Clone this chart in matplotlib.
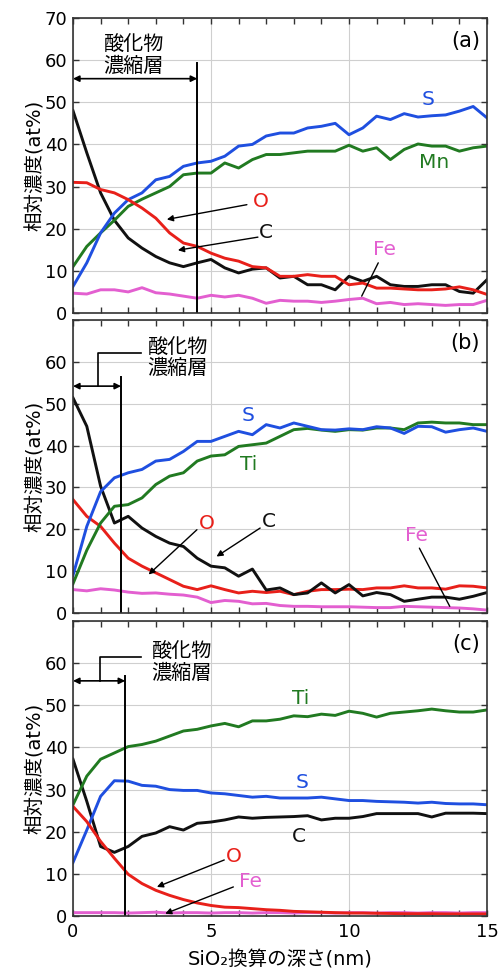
import matplotlib
matplotlib.use("Agg")
import matplotlib.pyplot as plt
from matplotlib.ticker import MultipleLocator

plt.rcParams['font.family'] = ['DejaVu Sans', 'Noto Sans CJK JP']

# depth grid (nm, SiO2 equivalent)
depth = [0, 0.5, 1, 1.5, 2, 2.5, 3, 3.5, 4, 4.5, 5, 5.5, 6, 6.5, 7, 7.5,
         8, 8.5, 9, 9.5, 10, 10.5, 11, 11.5, 12, 12.5, 13, 13.5, 14, 14.5, 15]

# ---- panel (a) ----
S_a = [6.3, 11.9, 19.0, 23.7, 26.9, 28.5, 31.6, 32.4, 34.8, 35.6, 36.0, 37.2, 39.6, 40.0, 42.0, 42.7,
       42.7, 43.9, 44.3, 45.0, 42.3, 43.9, 46.7, 45.9, 47.3, 46.5, 46.8, 47.0, 47.9, 49.0, 46.3]
Mn_a = [11.0, 15.8, 19.0, 22.0, 25.3, 27.0, 28.5, 30.0, 32.8, 33.2, 33.2, 35.6, 34.4, 36.4, 37.6, 37.6,
        38.0, 38.4, 38.4, 38.4, 39.8, 38.4, 39.2, 36.4, 38.8, 40.1, 39.6, 39.6, 38.4, 39.2, 39.6]
O_a = [31.0, 30.9, 29.3, 28.5, 26.9, 24.9, 22.5, 19.0, 16.6, 15.8, 14.2, 13.0, 12.3, 11.0, 10.7, 8.7,
       8.7, 9.1, 8.7, 8.7, 6.7, 7.1, 5.9, 5.9, 5.7, 5.5, 5.5, 5.7, 6.2, 5.5, 4.4]
C_a = [48.0, 38.0, 28.5, 22.0, 17.8, 15.4, 13.4, 11.9, 11.0, 11.9, 12.7, 10.7, 9.5, 10.4, 10.7, 8.3,
       8.7, 6.7, 6.7, 5.5, 8.7, 7.5, 8.7, 6.7, 6.3, 6.3, 6.7, 6.7, 5.1, 4.7, 7.9]
Fe_a = [4.7, 4.5, 5.5, 5.5, 5.0, 6.0, 4.8, 4.5, 4.0, 3.5, 4.2, 3.8, 4.2, 3.5, 2.3, 3.0,
        2.8, 2.8, 2.5, 2.8, 3.2, 3.5, 2.2, 2.5, 2.0, 2.2, 2.0, 1.8, 2.0, 2.0, 3.0]

# ---- panel (b) ----
S_b = [9.0, 20.7, 29.0, 32.3, 33.5, 34.3, 36.3, 36.7, 38.6, 41.0, 41.0, 42.2, 43.4, 42.6, 45.0, 44.2,
       45.4, 44.6, 43.8, 43.7, 44.0, 43.8, 44.5, 44.2, 42.9, 44.6, 44.5, 43.2, 43.8, 44.2, 43.4]
Ti_b = [7.0, 15.0, 21.5, 25.5, 25.9, 27.5, 30.7, 32.7, 33.5, 36.3, 37.5, 37.8, 39.8, 40.2, 40.6, 42.2,
        43.8, 44.1, 43.7, 43.4, 43.8, 43.7, 44.2, 44.2, 43.8, 45.4, 45.6, 45.4, 45.4, 45.0, 45.0]
O_b = [27.1, 23.1, 20.7, 16.7, 13.1, 11.2, 9.6, 8.0, 6.4, 5.6, 6.5, 5.6, 4.8, 5.2, 4.9, 5.2,
       4.4, 5.2, 5.6, 5.6, 5.7, 5.6, 6.0, 6.0, 6.5, 6.0, 6.0, 5.7, 6.5, 6.4, 6.0]
C_b = [51.4, 44.6, 30.3, 21.5, 23.1, 20.3, 18.3, 16.7, 15.9, 13.1, 11.2, 10.8, 8.8, 10.5, 5.5, 6.0,
       4.4, 4.8, 7.2, 4.8, 6.8, 4.1, 4.9, 4.4, 2.8, 3.3, 3.8, 3.8, 3.3, 4.0, 4.9]
Fe_b = [5.6, 5.3, 5.8, 5.5, 5.0, 4.7, 4.8, 4.5, 4.3, 3.8, 2.5, 3.0, 2.8, 2.2, 2.3, 1.8,
        1.6, 1.6, 1.5, 1.5, 1.5, 1.4, 1.3, 1.3, 1.6, 1.5, 1.4, 1.3, 1.2, 1.0, 0.7]

# ---- panel (c) ----
Ti_c = [26.4, 33.2, 37.2, 38.7, 40.2, 40.7, 41.5, 42.7, 43.9, 44.3, 45.1, 45.7, 44.9, 46.3, 46.3, 46.7,
        47.5, 47.3, 47.9, 47.6, 48.6, 48.1, 47.2, 48.1, 48.4, 48.7, 49.1, 48.7, 48.4, 48.4, 48.9]
S_c = [12.7, 20.4, 28.4, 32.1, 32.0, 31.0, 30.8, 30.0, 29.8, 29.8, 29.2, 29.0, 28.6, 28.2, 28.4, 28.0,
       28.0, 28.0, 28.2, 27.8, 27.4, 27.4, 27.2, 27.1, 27.0, 26.8, 27.0, 26.7, 26.6, 26.6, 26.4]
C_c = [37.2, 27.2, 16.5, 15.1, 16.5, 18.9, 19.7, 21.2, 20.4, 22.0, 22.3, 22.8, 23.5, 23.2, 23.4, 23.5,
       23.6, 23.8, 22.8, 23.2, 23.2, 23.6, 24.3, 24.3, 24.3, 24.3, 23.5, 24.4, 24.4, 24.4, 24.3]
O_c = [26.0, 22.4, 17.7, 13.7, 9.9, 7.7, 6.1, 4.9, 3.9, 3.1, 2.5, 2.1, 2.0, 1.75, 1.5, 1.35,
       1.1, 1.0, 0.9, 0.8, 0.7, 0.7, 0.65, 0.6, 0.55, 0.55, 0.55, 0.5, 0.5, 0.5, 0.5]
Fe_c = [0.8, 0.8, 0.8, 0.8, 0.7, 0.8, 0.9, 0.7, 0.8, 0.8, 0.7, 0.8, 0.8, 0.7, 0.8, 0.8,
        0.7, 0.8, 0.8, 0.7, 0.8, 0.8, 0.7, 0.8, 0.8, 0.7, 0.8, 0.8, 0.7, 0.8, 0.8]

# oxide-enriched layer thickness per panel
layer_a, layer_b, layer_c = 4.5, 1.74, 1.89

COL = {'S': '#1f4fe0', 'M': '#217a21', 'O': '#e8201a', 'C': '#111111', 'Fe': '#e35fd0'}

ylabel = '相対濃度(at%)'
xlabel = 'SiO₂換算の深さ(nm)'
layer_txt = '酸化物\n濃縮層'

fig = plt.figure(figsize=(5, 9.72), dpi=100)
rects = [[0.146, 0.678, 0.828, 0.3035],
         [0.146, 0.3693, 0.828, 0.3015],
         [0.146, 0.0576, 0.828, 0.3035]]
axes = [fig.add_axes(r) for r in rects]

LW = 2.1
TFS = 13


def style(ax, show_x, show70):
    ax.set_xlim(0, 15)
    ax.set_ylim(0, 70)
    ax.set_yticks(range(0, 71, 10))
    if show70:
        ax.set_yticklabels([str(v) for v in range(0, 71, 10)])
    else:
        ax.set_yticklabels([str(v) for v in range(0, 61, 10)] + [''])
    ax.set_xticks([0, 5, 10, 15])
    ax.xaxis.set_minor_locator(MultipleLocator(1))
    if not show_x:
        ax.set_xticklabels([])
    ax.tick_params(which='both', direction='in', top=True, right=True,
                   length=4, width=1, labelsize=TFS, color='#333333', pad=4)
    ax.tick_params(axis='x', pad=5)
    ax.grid(True, which='major', color='#cfcfcf', lw=0.8)
    ax.set_axisbelow(True)
    for s in ax.spines.values():
        s.set_color('#333333')
        s.set_linewidth(1.2)
    ax.set_ylabel(ylabel, fontsize=14, labelpad=0)


def arrow(ax, tail, head, head_on=True):
    ax.annotate('', xy=head, xytext=tail,
                arrowprops=dict(arrowstyle='-|>' if head_on else '-', color='k', lw=1.0,
                                mutation_scale=9, shrinkA=0, shrinkB=0))


def label(ax, x, y, t, c, ha='center'):
    ax.text(x, y, t, color=c, fontsize=14.5, ha=ha, va='center')


# ---- (a) ----
ax = axes[0]
style(ax, False, True)
ax.plot(depth, Fe_a, color=COL['Fe'], lw=LW)
ax.plot(depth, C_a, color=COL['C'], lw=LW)
ax.plot(depth, Mn_a, color=COL['M'], lw=LW)
ax.plot(depth, S_a, color=COL['S'], lw=LW)
ax.plot(depth, O_a, color=COL['O'], lw=LW)
ax.plot([layer_a, layer_a], [0, 59.3], color='k', lw=1.4)
ax.annotate('', xy=(0, 55.6), xytext=(layer_a, 55.6),
            arrowprops=dict(arrowstyle='<|-|>', color='k', lw=1.2, mutation_scale=9,
                            shrinkA=0, shrinkB=0))
ax.text(2.2, 61.0, layer_txt, fontsize=14.5, ha='center', va='center', linespacing=1.1)
label(ax, 12.85, 50.6, 'S', COL['S'])
label(ax, 13.1, 35.6, 'Mn', COL['M'])
label(ax, 6.8, 26.5, 'O', COL['O'])
label(ax, 7.0, 19.0, 'C', COL['C'])
label(ax, 11.3, 15.0, 'Fe', COL['Fe'])
arrow(ax, (6.3, 25.7), (3.4, 22.2))
arrow(ax, (6.7, 18.0), (3.8, 14.9))
arrow(ax, (11.06, 11.9), (10.46, 4.0), head_on=False)
ax.text(14.75, 64.5, '(a)', fontsize=15, ha='right', va='center')

# ---- (b) ----
ax = axes[1]
style(ax, False, False)
ax.plot(depth, Fe_b, color=COL['Fe'], lw=LW)
ax.plot(depth, O_b, color=COL['O'], lw=LW)
ax.plot(depth, C_b, color=COL['C'], lw=LW)
ax.plot(depth, Ti_b, color=COL['M'], lw=LW)
ax.plot(depth, S_b, color=COL['S'], lw=LW)
ax.plot([layer_b, layer_b], [0, 56.4], color='k', lw=1.4)
ax.annotate('', xy=(0, 54.2), xytext=(layer_b, 54.2),
            arrowprops=dict(arrowstyle='<|-|>', color='k', lw=1.2, mutation_scale=9,
                            shrinkA=0, shrinkB=0))
ax.plot([0.9, 0.9, 2.47], [54.2, 62.2, 62.2], color='k', lw=1.2)
ax.text(2.7, 60.8, layer_txt, fontsize=14.5, ha='left', va='center', linespacing=1.1)
label(ax, 6.36, 47.2, 'S', COL['S'])
label(ax, 6.36, 35.5, 'Ti', COL['M'])
label(ax, 4.85, 21.5, 'O', COL['O'])
label(ax, 7.08, 21.9, 'C', COL['C'])
label(ax, 12.45, 18.5, 'Fe', COL['Fe'])
arrow(ax, (4.49, 19.9), (2.74, 9.2))
arrow(ax, (6.78, 20.3), (5.2, 13.5))
arrow(ax, (12.55, 15.5), (13.65, 1.6), head_on=False)
ax.text(14.75, 64.5, '(b)', fontsize=15, ha='right', va='center')

# ---- (c) ----
ax = axes[2]
style(ax, True, False)
ax.plot(depth, Fe_c, color=COL['Fe'], lw=LW)
ax.plot(depth, C_c, color=COL['C'], lw=LW)
ax.plot(depth, S_c, color=COL['S'], lw=LW)
ax.plot(depth, Ti_c, color=COL['M'], lw=LW)
ax.plot(depth, O_c, color=COL['O'], lw=LW)
ax.plot([layer_c, layer_c], [0, 57.0], color='k', lw=1.4)
ax.annotate('', xy=(0, 55.8), xytext=(layer_c, 55.8),
            arrowprops=dict(arrowstyle='<|-|>', color='k', lw=1.2, mutation_scale=9,
                            shrinkA=0, shrinkB=0))
ax.plot([0.97, 0.97, 2.47], [55.8, 61.4, 61.4], color='k', lw=1.2)
ax.text(2.85, 60.1, layer_txt, fontsize=14.5, ha='left', va='center', linespacing=1.1)
label(ax, 8.26, 51.5, 'Ti', COL['M'])
label(ax, 8.29, 31.6, 'S', COL['S'])
label(ax, 8.19, 18.9, 'C', COL['C'])
label(ax, 5.81, 14.1, 'O', COL['O'])
label(ax, 6.42, 8.1, 'Fe', COL['Fe'])
arrow(ax, (5.48, 13.3), (3.04, 6.9))
arrow(ax, (5.81, 6.9), (3.34, 0.56))
ax.text(14.75, 64.5, '(c)', fontsize=15, ha='right', va='center')

fig.text(0.146 + 0.828 / 2, 0.0125, xlabel, fontsize=14, ha='center', va='center')

fig.savefig('out.png', dpi=100)
